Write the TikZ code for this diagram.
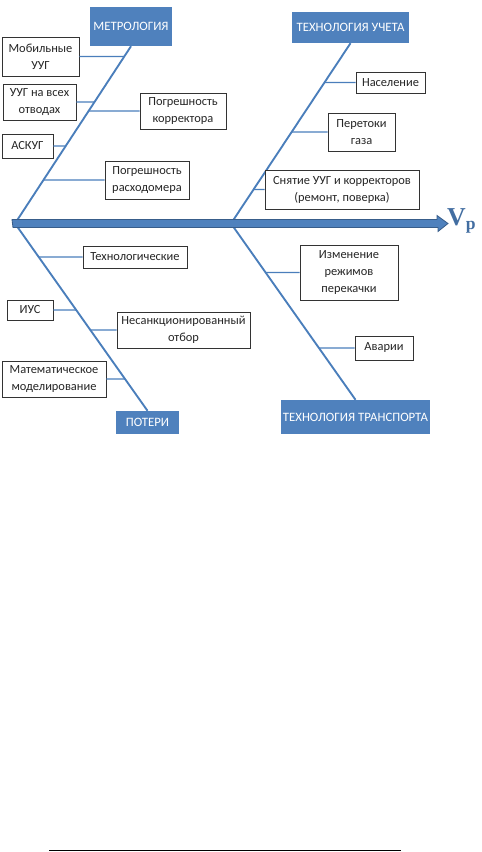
\documentclass[tikz,border=0pt]{standalone}
\usepackage{fontspec}
\setmainfont{Carlito}
\newfontfamily\vpfont{Liberation Serif}
\usetikzlibrary{arrows.meta, positioning}
\definecolor{accent}{HTML}{4F81BD}
\definecolor{bone}{HTML}{4A7EBB}
\definecolor{edge}{HTML}{385D8A}

\begin{document}
\begin{tikzpicture}[x=0.03cm, y=-0.03cm,
      every node/.style={font=\fontsize{10.6}{14.5}\selectfont},
      head/.style={fill=accent, text=white, inner sep=0pt, align=center, font=\fontsize{10.9}{13}\selectfont},
      cause/.style={draw=black!80, line width=0.6pt, fill=white, inner sep=0pt, align=center, text=black!85},
      rib/.style={draw=bone, line width=1.6pt},
      twig/.style={draw=bone, line width=1.1pt}]
    \useasboundingbox (0,0) rectangle (481,852);
    % group heads
    \node[head, minimum width=2.46cm, minimum height=1.17cm] (metr) at (131,26.5) {МЕТРОЛОГИЯ};
    \node[head, minimum width=3.51cm, minimum height=0.93cm] (uchet) at (350.5,27.5) {ТЕХНОЛОГИЯ УЧЕТА};
    \node[head, minimum width=1.89cm, minimum height=0.69cm] (poteri) at (147.5,422.5) {ПОТЕРИ};
    \node[head, minimum width=4.47cm, minimum height=1.02cm] (trans) at (355.5,417) {ТЕХНОЛОГИЯ ТРАНСПОРТА};
    \coordinate (ml) at (15,223.5);
    \coordinate (tl) at (231,223.5);
    \coordinate (tip) at (448,223.5);
    \draw[rib] (metr.south) -- (ml);
    \draw[rib] (uchet.south) -- (tl);
    \draw[rib] (poteri.north) -- (ml);
    \draw[rib] (trans.north) -- (tl);
    % spine
    \filldraw[fill=accent, draw=edge, line width=0.7pt] (ml) ++(-3,-4) -- ++(425,0) -- ++(0,-4)
      -- (tip) -- ++(-10,8) -- ++(0,-4) -- ++(-425,0) -- cycle;
    \node[anchor=west, inner sep=0pt, text=accent!85!black, font=\vpfont\bfseries\fontsize{22}{22}\selectfont] (vp) at (447,221)
      {V\raisebox{-3pt}{\fontsize{15}{15}\selectfont p}};
    % metrology
    \node[cause, minimum width=2.31cm, minimum height=1.17cm] (mob) at (40.5,56.5) {Мобильные\\УУГ};
    \node[cause, minimum width=2.19cm, minimum height=1.08cm] (otv) at (39.5,102) {УУГ на всех\\отводах};
    \node[cause, minimum width=1.53cm, minimum height=0.72cm] (askug) at (27.5,146) {АСКУГ};
    \node[cause, minimum width=2.58cm, minimum height=1.08cm] (korr) at (183,111) {Погрешность\\корректора};
    \node[cause, minimum width=2.52cm, minimum height=1.14cm] (rash) at (147,180) {Погрешность\\расходомера};
    \foreach \c in {mob, otv, askug}
      \draw[twig] (\c.east) -- (intersection of \c.east--\c.west and metr.south--ml);
    \foreach \c in {korr, rash}
      \draw[twig] (\c.west) -- (intersection of \c.east--\c.west and metr.south--ml);
    % accounting
    \node[cause, minimum width=2.07cm, minimum height=0.63cm] (nasel) at (390.5,82.5) {Население};
    \node[cause, minimum width=2.01cm, minimum height=1.14cm] (peret) at (361.5,132) {Перетоки\\газа};
    \node[cause, minimum width=4.62cm, minimum height=1.17cm] (snyat) at (342,189.5) {Снятие УУГ и корректоров\\(ремонт, поверка)};
    \foreach \c in {nasel, peret, snyat}
      \draw[twig] (\c.west) -- (intersection of \c.east--\c.west and uchet.south--tl);
    % losses
    \node[cause, minimum width=3.12cm, minimum height=0.66cm] (tehn) at (135,257) {Технологические};
    \node[cause, minimum width=1.38cm, minimum height=0.60cm] (ius) at (30,310) {ИУС};
    \node[cause, minimum width=3.99cm, minimum height=1.08cm] (nesank) at (183.5,330) {Несанкционированный\\отбор};
    \node[cause, minimum width=3.12cm, minimum height=1.08cm] (matem) at (54,379) {Математическое\\моделирование};
    \foreach \c in {tehn, nesank}
      \draw[twig] (\c.west) -- (intersection of \c.east--\c.west and poteri.north--ml);
    \foreach \c in {ius, matem}
      \draw[twig] (\c.east) -- (intersection of \c.east--\c.west and poteri.north--ml);
    % transport
    \node[cause, minimum width=2.94cm, minimum height=1.65cm] (izm) at (349,272.5) {Изменение\\режимов\\перекачки};
    \node[cause, minimum width=1.74cm, minimum height=0.72cm] (avar) at (384,348) {Аварии};
    \foreach \c in {izm, avar}
      \draw[twig] (\c.west) -- (intersection of \c.east--\c.west and trans.north--tl);
    % page rule
    \draw[line width=0.8pt] (49,850.5) -- (401,850.5);
  \end{tikzpicture}
\end{document}
